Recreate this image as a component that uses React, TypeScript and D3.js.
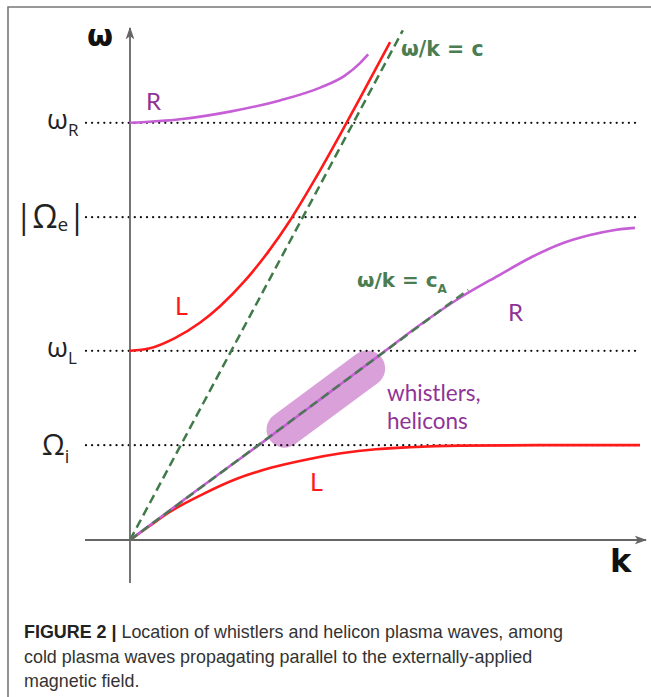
import React from "react";
import * as d3 from "d3";

// Dispersion branches for cold plasma waves propagating parallel to B0.
// Units: k and ω in arbitrary normalised units (0–10 on each axis).
const upperRk = [0, 0.98, 1.96, 2.94, 3.73, 4.22, 4.51, 4.67];
const upperRw = [8.18, 8.25, 8.4, 8.62, 8.87, 9.11, 9.35, 9.52];

const upperLk = [0, 0.39, 0.88, 1.37, 1.76, 2.25, 2.71, 3.16, 3.63, 4.12, 4.61, 5.1];
const upperLw = [3.71, 3.76, 3.96, 4.26, 4.58, 5.08, 5.65, 6.3, 7.08, 7.95, 8.85, 9.76];

const lowerRk = [0, 1.37, 2.55, 3.92, 4.9, 5.69, 6.47, 7.25, 7.84, 8.43, 9.02, 9.51, 9.9];
const lowerRw = [0, 1.02, 1.88, 2.9, 3.63, 4.22, 4.75, 5.2, 5.53, 5.8, 5.98, 6.08, 6.12];

const lowerLk = [0, 0.39, 0.78, 1.43, 2.12, 2.78, 3.47, 4.14, 4.82, 5.49, 6.47, 8.04, 10];
const lowerLw = [0, 0.28, 0.55, 0.9, 1.21, 1.42, 1.58, 1.7, 1.78, 1.82, 1.85, 1.86, 1.86];

// Characteristic frequencies (horizontal reference levels)
const levelNames = ["ωR", "|Ωe|", "ωL", "Ωi"];
const levelValues = [8.18, 6.33, 3.71, 1.86];

// Phase-velocity lines ω/k = c and ω/k = cA
const lightSpeed = 1.868;
const lightKmax = 5.35;
const alfvenSpeed = 0.74;
const alfvenKmax = 6.63;

// Whistler / helicon band along the Alfvén line
const bandK = [3.03, 4.65];

const captionLines = [
  ["FIGURE 2 | ", "Location of whistlers and helicon plasma waves, among"],
  ["", "cold plasma waves propagating parallel to the externally-applied"],
  ["", "magnetic field."],
];

const W = 651;
const H = 697;

const x = d3.scaleLinear().domain([0, 10]).range([130, 640]);
const y = d3.scaleLinear().domain([0, 10]).range([540, 30]);

const line = d3
  .line<[number, number]>()
  .x((d) => x(d[0]))
  .y((d) => y(d[1]))
  .curve(d3.curveMonotoneX);

const zip = (a: number[], b: number[]): [number, number][] => a.map((v, i) => [v, b[i]]);

const MAGENTA = "#c65ed6";
const PURPLE = "#8f3496";
const RED = "#ff1a1a";
const GREEN = "#3f7a48";
const GREEN_TEXT = "#4b7d52";
const AXIS = "#666";

const greekFont = "'Open Sans', 'DejaVu Sans', sans-serif";
const labelFont = "Lato, 'Open Sans', sans-serif";
const boldFont = "'DejaVu Sans', sans-serif";

function LevelLabel({ name, value }: { name: string; value: number }) {
  const yy = y(value);
  if (name === "ωR" || name === "ωL") {
    return (
      <text x={47} y={yy + 6} fontFamily={greekFont} fontSize={27} fill="#222">
        ω
        <tspan fontSize={17} dy={7}>
          {name[1]}
        </tspan>
      </text>
    );
  }
  if (name === "|Ωe|") {
    return (
      <text x={15} y={yy + 11} fontFamily={greekFont} fontSize={32} fill="#222">
        |Ω
        <tspan fontSize={19} dy={3}>
          e
        </tspan>
        <tspan dy={-3}>|</tspan>
      </text>
    );
  }
  return (
    <text x={42} y={yy + 10} fontFamily={greekFont} fontSize={29} fill="#222">
      Ω
      <tspan fontSize={18} dy={8}>
        i
      </tspan>
    </text>
  );
}

export default function App() {
  const angle = (-Math.atan(alfvenSpeed * (y(0) - y(1)) / (x(1) - x(0))) * 180) / Math.PI;
  const bx0 = x(bandK[0]);
  const by0 = y(alfvenSpeed * bandK[0]);
  const bx1 = x(bandK[1]);
  const by1 = y(alfvenSpeed * bandK[1]);
  const bandLen = Math.hypot(bx1 - bx0, by1 - by0);
  const bandThick = 36;
  const cx = (bx0 + bx1) / 2;
  const cy = (by0 + by1) / 2 + 4;

  return (
    <svg
      width={W}
      height={H}
      viewBox={`0 0 ${W} ${H}`}
      style={{ position: "absolute", left: 0, top: 0, background: "#fff" }}
    >
      <defs>
        <marker id="arrow" viewBox="0 0 10 10" refX={9} refY={5} markerWidth={7} markerHeight={7} orient="auto">
          <path d="M0,1.5 L10,5 L0,8.5 L2.5,5 Z" fill={AXIS} />
        </marker>
      </defs>

      {/* frame */}
      <path d={`M8,${H} L8,7 L${W},7`} fill="none" stroke="#777" strokeWidth={1.6} />

      {/* whistler / helicon band */}
      <rect
        x={cx - bandLen / 2 - bandThick / 2}
        y={cy - bandThick / 2}
        width={bandLen + bandThick}
        height={bandThick}
        rx={bandThick / 2}
        fill="#d9a0da"
        transform={`rotate(${angle} ${cx} ${cy})`}
      />

      {/* reference levels */}
      {levelValues.map((v, i) => (
        <g key={levelNames[i]}>
          <line
            x1={86}
            x2={641}
            y1={y(v)}
            y2={y(v)}
            stroke="#111"
            strokeWidth={2.3}
            strokeDasharray="0 6.1"
            strokeLinecap="round"
          />
          <LevelLabel name={levelNames[i]} value={v} />
        </g>
      ))}

      {/* axes */}
      <line x1={x(0)} x2={x(0)} y1={583} y2={28} stroke={AXIS} strokeWidth={1.8} markerEnd="url(#arrow)" />
      <line x1={85} x2={646} y1={y(0)} y2={y(0)} stroke={AXIS} strokeWidth={1.8} markerEnd="url(#arrow)" />
      <text x={87} y={46} fontFamily={boldFont} fontWeight="bold" fontSize={30} fill="#111">
        ω
      </text>
      <text x={610} y={572} fontFamily={boldFont} fontWeight="bold" fontSize={32} fill="#111">
        k
      </text>

      {/* phase velocity lines */}
      <line
        x1={x(0)}
        y1={y(0)}
        x2={x(lightKmax)}
        y2={y(lightSpeed * lightKmax)}
        stroke={GREEN}
        strokeWidth={2.5}
        strokeDasharray="9 5"
      />

      {/* dispersion branches */}
      <path d={line(zip(lowerLk, lowerLw)) ?? ""} fill="none" stroke={RED} strokeWidth={2.6} />
      <path d={line(zip(upperLk, upperLw)) ?? ""} fill="none" stroke={RED} strokeWidth={2.6} />
      <path d={line(zip(lowerRk, lowerRw)) ?? ""} fill="none" stroke={MAGENTA} strokeWidth={2.6} />
      <path d={line(zip(upperRk, upperRw)) ?? ""} fill="none" stroke={MAGENTA} strokeWidth={2.6} />

      <line
        x1={x(0)}
        y1={y(0)}
        x2={x(alfvenKmax)}
        y2={y(alfvenSpeed * alfvenKmax)}
        stroke={GREEN}
        strokeWidth={2.5}
        strokeDasharray="9 5"
        opacity={0.9}
      />

      {/* line labels */}
      <text x={401} y={56} fontFamily={boldFont} fontWeight="bold" fontSize={20.5} fill={GREEN_TEXT}>
        ω/k = c
      </text>
      <text x={357} y={287} fontFamily={boldFont} fontWeight="bold" fontSize={20} fill={GREEN_TEXT}>
        ω/k = c
        <tspan fontSize={12} dy={6}>
          A
        </tspan>
      </text>

      <text x={146} y={110} fontFamily={labelFont} fontSize={24} fill={PURPLE}>
        R
      </text>
      <text x={175} y={315} fontFamily={labelFont} fontSize={25} fill={RED}>
        L
      </text>
      <text x={508} y={321} fontFamily={labelFont} fontSize={24} fill={PURPLE}>
        R
      </text>
      <text x={310} y={491} fontFamily={labelFont} fontSize={25} fill={RED}>
        L
      </text>

      <text x={387} y={401} fontFamily={labelFont} fontSize={22.5} fill={PURPLE}>
        whistlers,
      </text>
      <text x={387} y={428.5} fontFamily={labelFont} fontSize={22.5} fill={PURPLE}>
        helicons
      </text>

      {/* caption */}
      {captionLines.map((ln, i) => (
        <text key={i} x={24} y={638 + i * 24.5} fontFamily="'Liberation Sans', Arial, sans-serif" fontSize={17.9} fill="#333">
          {ln[0] && <tspan fontWeight="bold" fill="#222">{ln[0]}</tspan>}
          {ln[1]}
        </text>
      ))}
    </svg>
  );
}
